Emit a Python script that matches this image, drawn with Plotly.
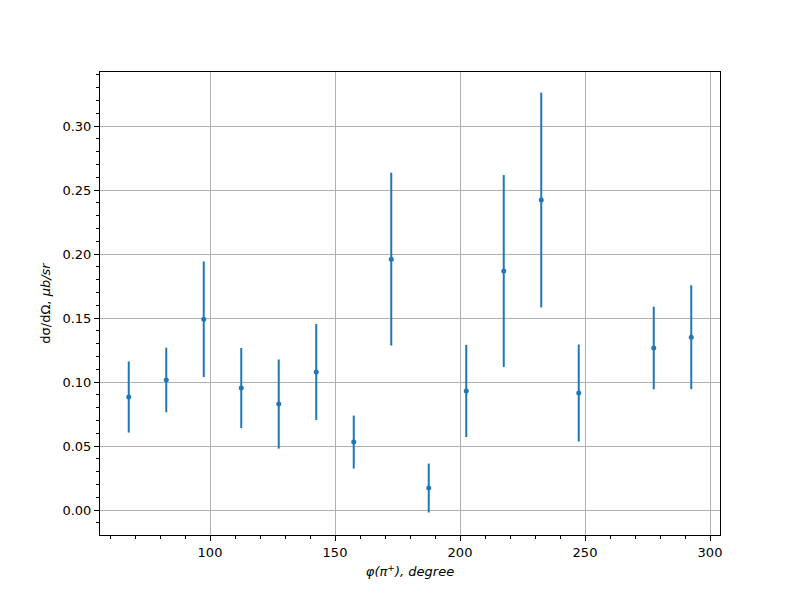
import plotly.graph_objects as go

phi = [67.5, 82.5, 97.5, 112.5, 127.5, 142.5, 157.5, 172.5, 187.5, 202.5,
       217.5, 232.5, 247.5, 277.5, 292.5]
xsec = [0.0883, 0.1016, 0.1490, 0.0953, 0.0828, 0.1078, 0.0531, 0.1960, 0.0172,
        0.0930, 0.1867, 0.2422, 0.0914, 0.1266, 0.1350]
err = [0.0278, 0.0252, 0.0452, 0.0313, 0.0348, 0.0375, 0.0207, 0.0675, 0.0191,
       0.0360, 0.0750, 0.0839, 0.0379, 0.0323, 0.0406]

x_ticks = [100, 150, 200, 250, 300]
y_ticks = [0.00, 0.05, 0.10, 0.15, 0.20, 0.25, 0.30]

fig = go.Figure()
fig.add_trace(go.Scatter(
    x=phi, y=xsec, mode="markers",
    marker=dict(color="#1f77b4", size=5),
    error_y=dict(type="data", array=err, visible=True, color="#1f77b4",
                 thickness=2, width=0),
    showlegend=False,
))

axis_common = dict(
    showline=True, linecolor="black", linewidth=1, mirror=True,
    ticks="outside", ticklen=5, tickcolor="black",
    showgrid=True, gridcolor="#b0b0b0", gridwidth=1, zeroline=False,
    tickfont=dict(family="DejaVu Sans", size=13, color="black"),
)

fig.update_layout(
    width=800, height=600,
    paper_bgcolor="white", plot_bgcolor="white",
    margin=dict(l=92, r=88, t=64, b=73),
    font=dict(family="DejaVu Sans", size=13, color="black"),
    xaxis=dict(range=[56, 304], tickvals=x_ticks,
               ticktext=[str(v) for v in x_ticks],
               minor=dict(dtick=10, tick0=0, ticks="outside", ticklen=3,
                          tickcolor="black", showgrid=False),
               title=dict(text="<i>φ(π<sup>+</sup>), degree</i>", standoff=8,
                          font=dict(size=13)),
               **axis_common),
    yaxis=dict(range=[-0.0195, 0.3422], tickvals=y_ticks,
               ticktext=[f"{v:.2f}" for v in y_ticks],
               minor=dict(dtick=0.01, tick0=0, ticks="outside", ticklen=3,
                          tickcolor="black", showgrid=False),
               title=dict(text="dσ/dΩ, <i>μb/sr</i>", standoff=8,
                          font=dict(size=13)),
               **axis_common),
)

fig.write_html("out.html")
